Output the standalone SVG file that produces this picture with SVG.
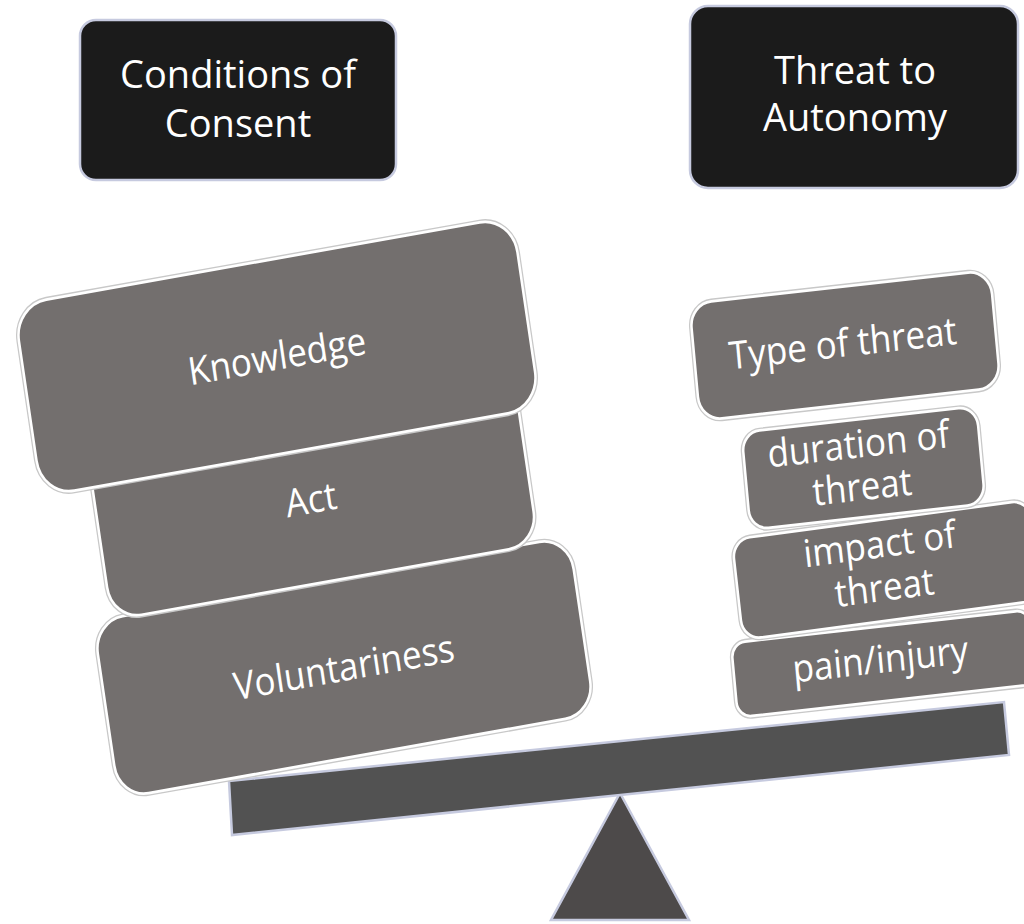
<svg xmlns="http://www.w3.org/2000/svg" width="1024" height="924" viewBox="0 0 1024 924">
  <style>
    .hdr { fill: #1b1b1b; stroke: #c6cadf; stroke-width: 2.5; }
    .hdr-t { font-family: "Open Sans", "Liberation Sans", sans-serif; font-size: 38px; fill: #ffffff; text-anchor: middle; }
    .halo { fill: none; stroke: #c8c8c8; stroke-width: 5; }
    .blk { fill: #736f6e; stroke: #ffffff; stroke-width: 2.5; }
    .lbl { font-family: "Open Sans", "Liberation Sans", sans-serif; font-size: 35px; fill: #ffffff; text-anchor: middle; }
    .beam { fill: #525252; stroke: #c6cadf; stroke-width: 2.5; stroke-linejoin: miter; }
    .stand { fill: #4d4a4a; stroke: #c6cadf; stroke-width: 2.5; }
  </style>

  <rect width="1024" height="924" fill="#ffffff"/>

  <!-- column headings -->
  <g id="conditions-of-consent">
    <rect class="hdr" x="80" y="20" width="316" height="160" rx="16"/>
    <text class="hdr-t" x="238" y="88">Conditions of</text>
    <text class="hdr-t" x="238" y="137">Consent</text>
  </g>
  <g id="threat-to-autonomy">
    <rect class="hdr" x="690" y="6" width="328" height="182" rx="18"/>
    <text class="hdr-t" x="855" y="84">Threat to</text>
    <text class="hdr-t" x="855" y="131">Autonomy</text>
  </g>

  <!-- scale: beam and fulcrum -->
  <g id="fulcrum">
    <polygon class="stand" points="620,793 551,920 689,920"/>
  </g>
  <g id="beam">
    <polygon class="beam" points="229,781 1004,702 1009,755 232,835"/>
  </g>

  <!-- left pan: consent blocks, stacked bottom to top -->
  <g id="voluntariness" transform="matrix(0.9871 -0.1759 0.1599 1.0858 344 667.5)">
    <rect class="halo" x="-241" y="-81.5" width="482" height="163" rx="30"/>
    <rect class="blk" x="-241" y="-81.5" width="482" height="163" rx="30"/>
    <text class="lbl" x="0" y="12">Voluntariness</text>
  </g>
  <g id="act" transform="matrix(0.9871 -0.1759 0.1599 1.0858 313 499.5)">
    <rect class="halo" x="-216" y="-76" width="432" height="152" rx="30"/>
    <rect class="blk" x="-216" y="-76" width="432" height="152" rx="30"/>
    <text class="lbl" x="-2" y="12">Act</text>
  </g>
  <g id="knowledge" transform="matrix(0.9871 -0.1759 0.1599 1.0858 277 356.5)">
    <rect class="halo" x="-252.5" y="-88" width="505" height="176" rx="33"/>
    <rect class="blk" x="-252.5" y="-88" width="505" height="176" rx="33"/>
    <text class="lbl" x="0" y="12">Knowledge</text>
  </g>

  <!-- right pan: threat blocks, stacked bottom to top -->
  <g id="pain-injury" transform="matrix(0.9949 -0.1112 0.1011 1.0944 883.7 663.6)">
    <rect class="halo" x="-150" y="-34" width="300" height="68" rx="14"/>
    <rect class="blk" x="-150" y="-34" width="300" height="68" rx="14"/>
    <text class="lbl" x="-3" y="8">pain/injury</text>
  </g>
  <g id="impact-of-threat" transform="matrix(0.99255 -0.13284 0.12187 1.08188 886.4 569.8)">
    <rect class="halo" x="-150" y="-46.3" width="300" height="92.6" rx="18"/>
    <rect class="blk" x="-150" y="-46.3" width="300" height="92.6" rx="18"/>
    <text class="lbl" x="-4" y="-12">impact of</text>
    <text class="lbl" x="-4" y="28">threat</text>
  </g>
  <g id="duration-of-threat" transform="matrix(0.9949 -0.1112 0.1011 1.0944 863.4 468)">
    <rect class="halo" x="-118" y="-44.5" width="236" height="89" rx="18"/>
    <rect class="blk" x="-118" y="-44.5" width="236" height="89" rx="18"/>
    <text class="lbl" x="-3" y="-10">duration of</text>
    <text class="lbl" x="-3" y="29">threat</text>
  </g>
  <g id="type-of-threat" transform="matrix(0.9949 -0.1112 0.1011 1.0944 845 345.5)">
    <rect class="halo" x="-151" y="-53.5" width="302" height="107" rx="22"/>
    <rect class="blk" x="-151" y="-53.5" width="302" height="107" rx="22"/>
    <text class="lbl" x="-2" y="10">Type of threat</text>
  </g>
</svg>
